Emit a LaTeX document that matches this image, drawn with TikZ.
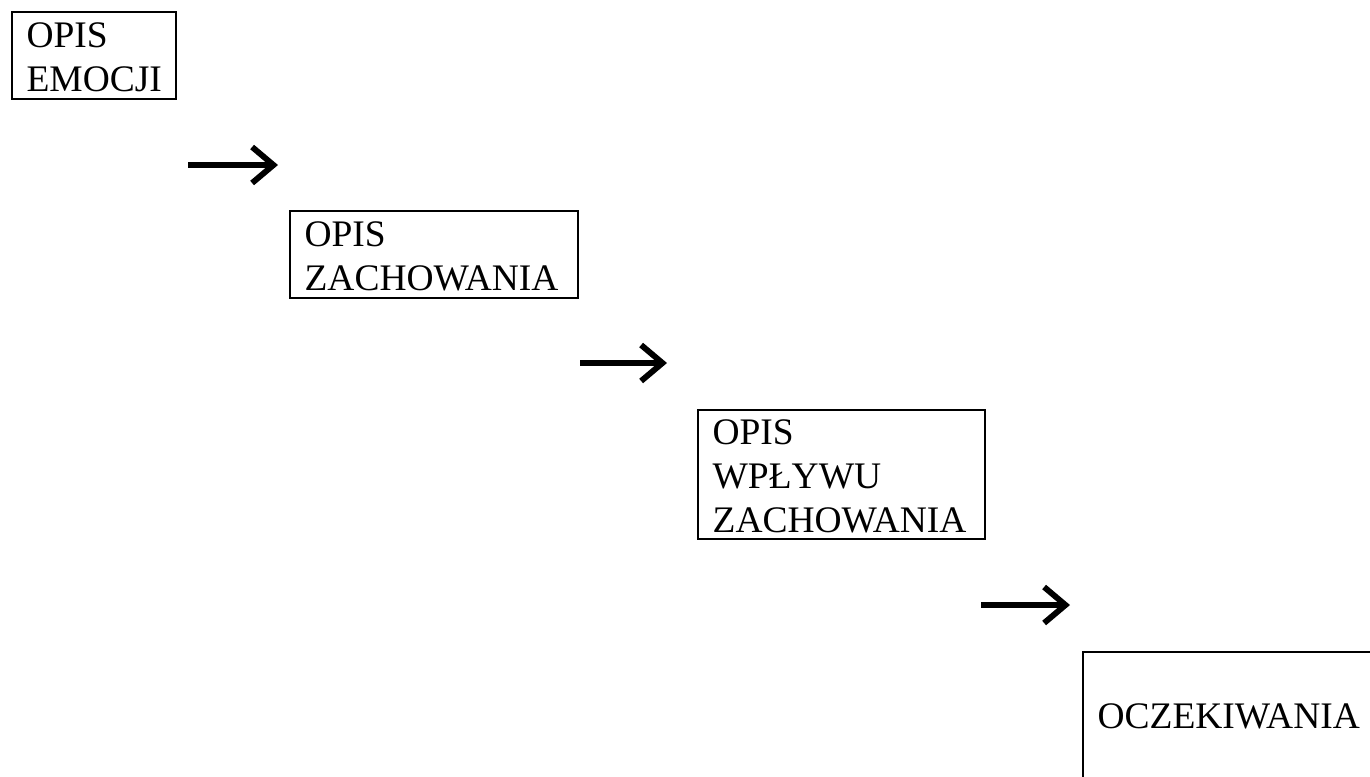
\documentclass[tikz,border=0pt]{standalone}
\usepackage{fontspec}
\setmainfont{Liberation Serif}
\usetikzlibrary{arrows.meta}
\begin{document}
\begin{tikzpicture}[x=0.75pt,y=-0.75pt,
  box/.style={draw=black, line width=1.6pt, anchor=north west, inner xsep=10.9pt, inner ysep=0pt,
    align=left, font=\fontsize{28.1pt}{33pt}\selectfont},
  arr/.style={line width=3.8pt, -{Straight Barb[length=16pt,width=27pt,line width=4.4pt]}}]
\useasboundingbox (0,0) rectangle (1370,776);
\clip (0,0) rectangle (1370,776);
\node[box, text width=101pt, text height=26.25pt, text depth=39pt] (b1) at (11,11) {OPIS\\EMOCJI};
\node[box, text width=194pt, text height=26.25pt, text depth=39pt] (b2) at (289,210) {OPIS\\ZACHOWANIA};
\node[box, text width=193.5pt, text height=25.5pt, text depth=71.25pt] (b3) at (697,409) {OPIS\\WPŁYWU\\ZACHOWANIA};
\node[box, text width=260pt, text height=57pt, text depth=60pt] (b4) at (1082,651) {OCZEKIWANIA};
\coordinate (a1s) at (188,165); \coordinate (a1e) at (278,165);
\coordinate (a2s) at (580,363); \coordinate (a2e) at (667,363);
\coordinate (a3s) at (981,605); \coordinate (a3e) at (1070,605);
\draw[arr] (a1s) -- (a1e);
\draw[arr] (a2s) -- (a2e);
\draw[arr] (a3s) -- (a3e);
\end{tikzpicture}
\end{document}
